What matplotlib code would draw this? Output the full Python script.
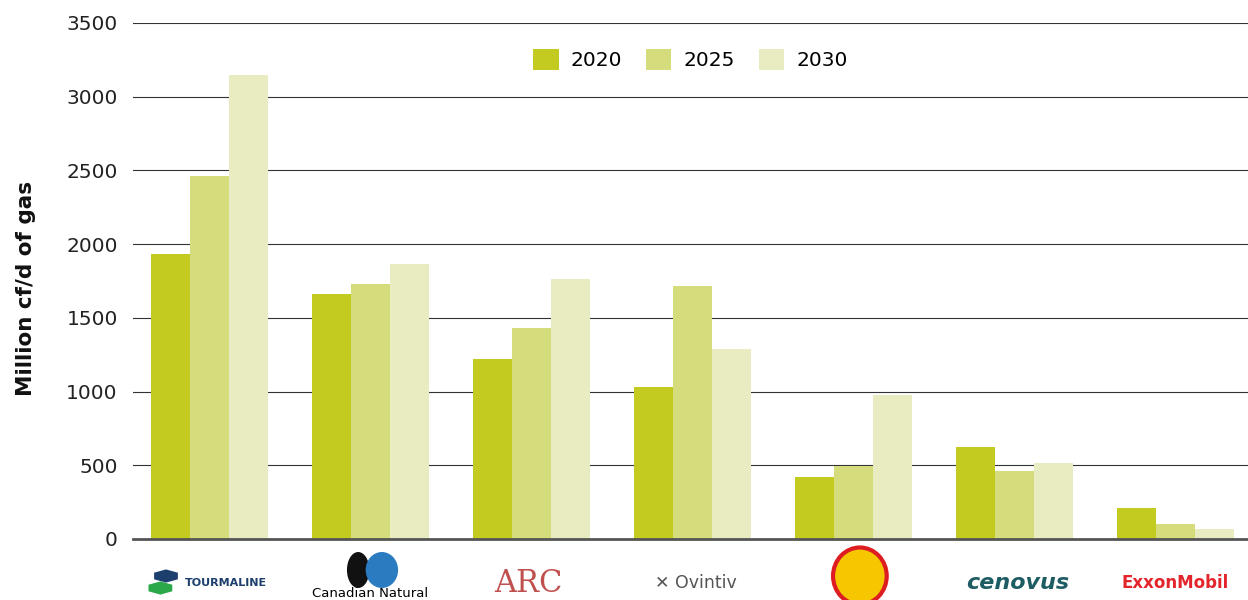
"""Gas production by company, 2020 / 2025 / 2030 (million cf/d)."""

import matplotlib

matplotlib.use("Agg")
import matplotlib.pyplot as plt
import numpy as np
from matplotlib.patches import Ellipse, RegularPolygon
from matplotlib.transforms import blended_transform_factory

# ── data ──────────────────────────────────────────────────────────────────────
COMPANIES = ["TOURMALINE", "Canadian Natural", "ARC", "Ovintiv", "Shell", "cenovus", "ExxonMobil"]
YEARS = ["2020", "2025", "2030"]
VALS_2020 = [1930, 1660, 1220, 1030, 420, 625, 210]
VALS_2025 = [2460, 1730, 1430, 1715, 495, 460, 102]
VALS_2030 = [3150, 1865, 1765, 1290, 978, 515, 68]
Y_TICKS = [0, 500, 1000, 1500, 2000, 2500, 3000, 3500]

COLORS = ["#c3cb21", "#d5dc7b", "#e8ecc0"]

plt.rcParams["font.family"] = ["DejaVu Sans"]

fig = plt.figure(figsize=(12.48, 6.0), dpi=100)
ax = fig.add_axes([0.1066, 0.1017, 0.8934, 0.86])

x = np.arange(len(COMPANIES))
width = 0.242
for i, (vals, col, lab) in enumerate(zip([VALS_2020, VALS_2025, VALS_2030], COLORS, YEARS)):
    ax.bar(x + (i - 1) * width, vals, width, color=col, label=lab, zorder=3, linewidth=0)

ax.set_ylim(0, 3500)
ax.set_xlim(-0.475, 6.45)
ax.set_yticks(Y_TICKS)
ax.set_yticklabels([str(v) for v in Y_TICKS], fontsize=14.5, color="#222222")
ax.tick_params(axis="y", length=0, pad=11)
ax.set_xticks([])
ax.grid(axis="y", color="#333333", linewidth=0.8, zorder=0)
for side in ["top", "right", "left"]:
    ax.spines[side].set_visible(False)
ax.spines["bottom"].set_color("#555555")
ax.spines["bottom"].set_linewidth(2.0)
ax.spines["bottom"].set_zorder(4)

fig.text(0.021, 0.52, "Million cf/d of gas", rotation=90, fontsize=15.5,
         fontweight="bold", ha="center", va="center", color="#111111")

ax.legend(loc="upper center", bbox_to_anchor=(0.5, 0.985), ncol=3, frameon=False,
          fontsize=14.5, handlelength=1.25, handleheight=1.25, columnspacing=1.2,
          handletextpad=0.6)

# ── company "logos" drawn as styled text ─────────────────────────────────────
tr = blended_transform_factory(ax.transData, fig.transFigure)
ft = fig.transFigure
ly = 0.028
# Tourmaline
ax.text(x[0] + 0.1, ly, "TOURMALINE", transform=tr, ha="center", va="center",
        fontsize=8, fontweight="bold", color="#1d3f6e", clip_on=False)
fig.patches.append(RegularPolygon((0.1285, 0.020), 6, radius=0.011, transform=ft,
                                  facecolor="#2aa84a", edgecolor="none"))
fig.patches.append(RegularPolygon((0.1330, 0.040), 6, radius=0.011, transform=ft,
                                  facecolor="#1d3f6e", edgecolor="none"))
# Canadian Natural
ax.text(x[1], 0.0, "Canadian Natural", transform=tr, ha="center", va="bottom",
        fontsize=9.5, color="#000000", clip_on=False)
fig.patches.append(Ellipse((0.2870, 0.050), 0.018, 0.060, transform=ft,
                           facecolor="#111111", edgecolor="none"))
fig.patches.append(Ellipse((0.3060, 0.050), 0.026, 0.060, transform=ft,
                           facecolor="#2a7bc0", edgecolor="none"))
# ARC
ax.text(x[2] - 0.02, ly, "ARC", transform=tr, ha="center", va="center",
        fontsize=22, family="DejaVu Serif", color="#c0504d", clip_on=False)
# Ovintiv
ax.text(x[3] + 0.02, ly, "✕ Ovintiv", transform=tr, ha="center", va="center",
        fontsize=12.5, color="#555555", clip_on=False)
# Shell
fig.patches.append(Ellipse((0.689, 0.040), 0.043, 0.095, transform=ft,
                           facecolor="#f6c700", edgecolor="#dd1d21", linewidth=3))
# Cenovus
ax.text(x[5] + 0.02, ly, "cenovus", transform=tr, ha="center", va="center",
        fontsize=16, fontweight="bold", fontstyle="italic", color="#1e5c63", clip_on=False)
# ExxonMobil
ax.text(x[6], ly, "ExxonMobil", transform=tr, ha="center", va="center",
        fontsize=12, fontweight="bold", color="#e3242b", clip_on=False)

fig.savefig("out.png", dpi=100)
